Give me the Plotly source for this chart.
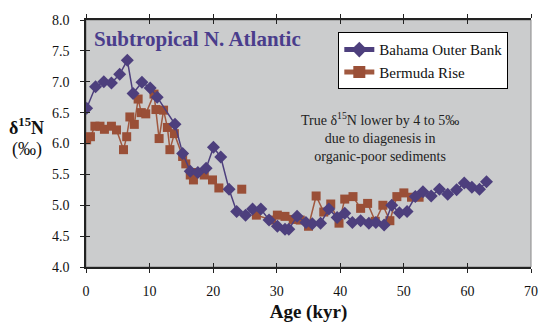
import plotly.graph_objects as go

# ---- data ----
bahama_age = [0.1, 1.5, 2.8, 4.0, 5.3, 6.5, 7.4, 8.8, 10.1, 11.2, 14.0, 15.2, 16.4, 17.6,
              18.9, 20.05, 21.2, 22.5, 23.7, 25.1, 26.2, 27.5, 28.8, 30.1, 31.3, 31.9,
              33.2, 34.6, 35.6, 36.9, 38.2, 39.5, 40.7, 41.9, 43.2, 44.5, 45.6, 46.9,
              48.1, 49.3, 50.5, 51.8, 53.0, 54.3, 55.6, 56.9, 58.3, 59.5, 60.7, 61.9, 63.0]
bahama_d15n = [6.57, 6.92, 7.00, 6.98, 7.12, 7.35, 6.81, 6.99, 6.90, 6.75, 6.31, 5.84, 5.55, 5.53,
               5.60, 5.94, 5.78, 5.26, 4.90, 4.84, 4.94, 4.94, 4.76, 4.66, 4.61, 4.61,
               4.82, 4.72, 4.70, 4.71, 4.94, 4.80, 4.87, 4.72, 4.75, 4.71, 4.72, 4.68,
               5.00, 4.88, 4.90, 5.14, 5.22, 5.15, 5.26, 5.18, 5.25, 5.36, 5.29, 5.26, 5.38]

bermuda_age = [0.1, 0.7, 1.4, 2.2, 2.9, 4.0, 4.8, 5.9, 6.4, 6.9, 7.6, 8.2, 8.7, 9.4, 10.7,
               11.0, 11.5, 12.2, 12.8, 13.2, 13.9, 15.2, 15.7, 16.4, 16.9, 17.5, 18.6, 19.9,
               20.9, None, 24.5, None, 26.8, 29.2, 30.1, 31.3, 32.6, 33.7, 35.0, 36.2, 37.4,
               38.5, 39.8, 40.7, 42.0, 43.2, 44.3, 45.5, 46.7, 47.8, 48.9, 50.0, 51.2, 52.4]
bermuda_d15n = [6.06, 6.11, 6.28, 6.28, 6.23, 6.28, 6.22, 5.90, 6.11, 6.43, 6.31, 6.72, 6.50, 6.48, 6.80,
                6.55, 6.08, 6.54, 6.26, 5.90, 6.16, 5.79, 5.67, 5.49, 5.41, 5.53, 5.49, 5.41,
                5.28, None, 5.26, None, 4.84, 4.76, 4.84, 4.82, 4.77, 4.76, 4.66, 5.15, 4.89,
                5.02, 4.71, 5.10, 5.14, 4.95, 5.03, 4.74, 5.00, 4.75, 5.14, 5.20, 5.13, 5.13]

x_ticks = [0, 10, 20, 30, 40, 50, 60, 70]
y_ticks = [4.0, 4.5, 5.0, 5.5, 6.0, 6.5, 7.0, 7.5, 8.0]
y_tick_text = ["%.1f" % v for v in y_ticks]

SERIF = "Liberation Serif, Times New Roman, serif"
PURPLE = "#4d3f7d"
BROWN = "#9a4f37"

fig = go.Figure()
fig.add_trace(go.Scatter(
    x=bermuda_age, y=bermuda_d15n, name="Bermuda Rise", mode="lines+markers",
    line=dict(color="#a0583f", width=1.5),
    marker=dict(symbol="square", size=9, color=BROWN),
    connectgaps=False,
))
fig.add_trace(go.Scatter(
    x=bahama_age, y=bahama_d15n, name="Bahama Outer Bank", mode="lines+markers",
    line=dict(color=PURPLE, width=1.5),
    marker=dict(symbol="diamond", size=10, color=PURPLE),
))
# empty trace to anchor overlay axes (inside ticks => crossing tick look)
fig.add_trace(go.Scatter(x=[], y=[], xaxis="x2", yaxis="y2", showlegend=False))

fig.update_layout(
    width=539, height=323,
    margin=dict(l=86, r=8, t=20, b=56, autoexpand=False),
    paper_bgcolor="white",
    plot_bgcolor="#cbcccd",
    font=dict(family=SERIF, size=14, color="#111"),
    showlegend=True,
    legend=dict(
        x=0.567, y=0.95, xanchor="left", yanchor="top",
        bgcolor="white", bordercolor="black", borderwidth=1,
        font=dict(family=SERIF, size=15, color="#111"),
        traceorder="reversed", tracegroupgap=0, itemwidth=30,
        itemsizing="constant",
    ),
    xaxis=dict(
        range=[0, 70], tickvals=x_ticks, showgrid=False, zeroline=False,
        showline=True, linecolor="#222", linewidth=1.5, mirror="ticks",
        ticks="outside", ticklen=4, tickwidth=1, tickcolor="#222",
        tickfont=dict(size=14), ticklabelstandoff=6, automargin=False,
        title=dict(text="<b>Age (kyr)</b>", font=dict(size=19), standoff=8),
    ),
    yaxis=dict(
        range=[4.0, 8.0], tickvals=y_ticks, ticktext=y_tick_text, showgrid=False, zeroline=False,
        showline=True, linecolor="#222", linewidth=1.5, automargin=False,
        ticks="outside", ticklen=4, tickwidth=1, tickcolor="#222",
        tickfont=dict(size=14), ticklabelstandoff=8,
    ),
    xaxis2=dict(
        overlaying="x", range=[0, 70], tickvals=x_ticks, showticklabels=False,
        showgrid=False, zeroline=False, ticks="inside", ticklen=4, tickcolor="#222",
        mirror="ticks", showline=False, automargin=False,
    ),
    yaxis2=dict(
        overlaying="y", range=[4.0, 8.0], tickvals=y_ticks, showticklabels=False,
        showgrid=False, zeroline=False, ticks="inside", ticklen=4, tickcolor="#222",
        showline=False, automargin=False,
    ),
    shapes=[dict(type="rect", xref="paper", yref="paper", x0=0, y0=0, x1=1, y1=1,
                 line=dict(color="#888", width=1), layer="below")],
    annotations=[
        dict(text="<b>Subtropical N. Atlantic</b>", xref="paper", yref="paper",
             x=0.013, y=0.98, xanchor="left", yanchor="top", showarrow=False,
             font=dict(family=SERIF, size=21, color="#4a3d8c")),
        dict(text="True δ<sup>15</sup>N lower by 4 to 5‰<br>due to diagenesis in<br>organic-poor sediments",
             xref="paper", yref="paper", x=0.661, y=0.525, xanchor="center", yanchor="middle",
             showarrow=False, align="center",
             font=dict(family=SERIF, size=14, color="#222")),
        dict(text="<b>δ<sup>15</sup>N</b>", xref="paper", yref="paper",
             x=-0.133, y=0.567, xanchor="center", yanchor="middle", showarrow=False,
             font=dict(family=SERIF, size=18, color="#111")),
        dict(text="(‰)", xref="paper", yref="paper",
             x=-0.133, y=0.474, xanchor="center", yanchor="middle", showarrow=False,
             font=dict(family=SERIF, size=18, color="#111")),
    ],
)

fig.write_html("out.html")
